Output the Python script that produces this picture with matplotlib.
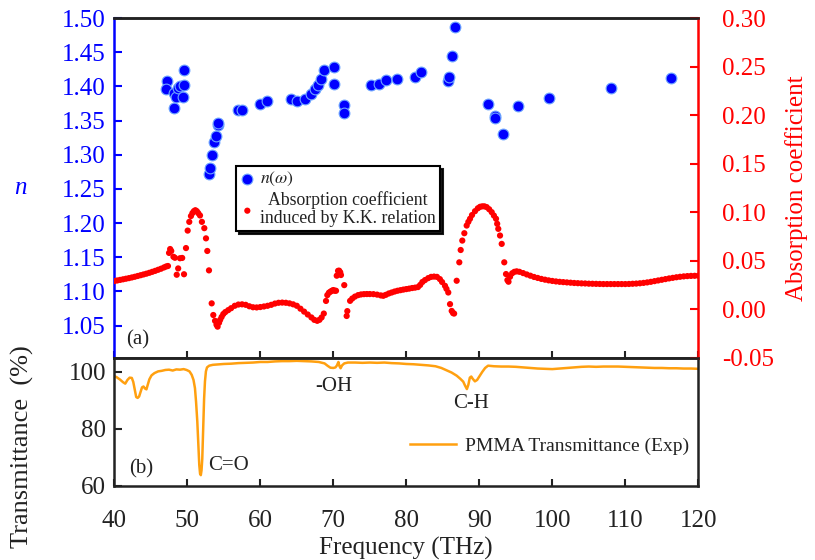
import matplotlib
matplotlib.use("Agg")
import matplotlib.pyplot as plt
from matplotlib.ticker import FixedLocator, FormatStrFormatter

plt.rcParams['font.family'] = ['Liberation Serif', 'DejaVu Serif']
plt.rcParams['mathtext.fontset'] = 'stix'

# ---------------- data ----------------
# refractive index n(omega) (left axis, top panel)
n_freq = [47.18, 47.09, 48.18, 48.2, 48.45, 48.77, 49.0, 49.45, 49.55, 49.6,
          53.0, 53.14, 53.37, 53.68, 53.92, 54.14, 54.27,
          57.01, 57.56, 59.99, 60.9, 64.19, 65.01, 66.15, 66.93, 67.52, 67.84,
          68.3, 68.75, 70.12, 70.03, 71.53, 71.53,
          75.19, 76.28, 77.24, 78.79, 81.21, 81.99, 85.69, 85.86, 86.32, 86.68,
          91.24, 92.16, 92.16, 93.2, 95.34, 99.55, 108.0, 116.2]
n_vals = [1.408, 1.396, 1.369, 1.390, 1.385, 1.397, 1.400, 1.385, 1.402, 1.424,
          1.272, 1.280, 1.300, 1.318, 1.327, 1.344, 1.347,
          1.366, 1.365, 1.375, 1.379, 1.381, 1.379, 1.382, 1.389, 1.396, 1.402,
          1.411, 1.424, 1.428, 1.404, 1.373, 1.361,
          1.402, 1.403, 1.410, 1.411, 1.414, 1.421, 1.408, 1.414, 1.445, 1.487,
          1.374, 1.357, 1.354, 1.330, 1.371, 1.383, 1.397, 1.412]

# absorption coefficient induced by K.K. relation (right axis, top panel)
abs_freq = [40.0, 40.4, 40.8, 41.2, 41.6, 42.0, 42.4, 42.8, 43.2, 43.6, 44.0,
            44.4, 44.8, 45.2, 45.6, 46.0, 46.4, 46.8, 47.1,
            47.35, 47.5, 47.65, 47.8, 48.1, 48.3, 48.55, 48.75, 49.0, 49.3,
            49.55, 49.82, 50.05, 50.27, 50.5, 50.7, 50.9, 51.1, 51.3, 51.5,
            51.74, 52.0, 52.33, 52.56, 52.74, 52.97, 53.34, 53.56, 53.8, 54.0,
            54.15, 54.35, 54.5, 54.7, 54.93, 55.2, 55.6, 56.0, 56.5, 57.0,
            57.5, 58.0, 58.5, 59.0, 59.5, 60.0, 60.5, 61.0, 61.5, 62.0, 62.5,
            63.0, 63.5, 64.0, 64.5, 65.0, 65.5, 66.0, 66.5, 67.0, 67.4, 67.8,
            68.1, 68.4, 68.7, 69.0, 69.18, 69.4, 69.6, 69.8, 70.0, 70.2, 70.37,
            70.47, 70.65, 70.8, 70.95, 71.05, 71.5, 71.83, 71.92, 72.3, 72.6,
            72.97, 73.4, 73.8, 74.2, 74.6, 75.0, 75.5, 76.0, 76.5, 76.85, 77.2,
            77.6, 78.0, 78.4, 78.8, 79.2, 79.6, 80.0, 80.4, 80.8, 81.2, 81.6,
            81.9, 82.2, 82.56, 83.0, 83.4, 83.8, 84.2, 84.6, 84.9, 85.3, 85.5,
            85.75, 85.99, 86.22, 86.4, 86.55, 86.9, 87.26, 87.45, 87.67, 87.95,
            88.27, 88.5, 88.73, 89.0, 89.41, 89.8, 90.1, 90.4, 90.7, 91.01,
            91.35, 91.7, 92.0, 92.29, 92.45, 92.6, 92.84, 93.07, 93.42, 93.66,
            93.85, 94.0, 94.21, 94.5, 94.8, 95.12, 95.5, 96.0, 96.5, 97.0, 97.5,
            98.0, 98.5, 99.0, 99.5, 100.0, 100.5, 101.0, 101.5, 102.0, 102.5,
            103.0, 103.5, 104.0, 104.5, 105.0, 105.5, 106.0, 106.5, 107.0,
            107.5, 108.0, 108.5, 109.0, 109.5, 110.0, 110.5, 111.0, 111.5,
            112.0, 112.5, 113.0, 113.5, 114.0, 114.5, 115.0, 115.5, 116.0,
            116.5, 117.0, 117.5, 118.0, 118.5, 119.0, 119.5, 120.0]
abs_vals = [0.0290, 0.0296, 0.0302, 0.0308, 0.0314, 0.0320, 0.0327, 0.0334,
            0.0342, 0.0350, 0.0358, 0.0366, 0.0375, 0.0385, 0.0395, 0.0406,
            0.0417, 0.0430, 0.0440,
            0.0445, 0.058, 0.062, 0.060, 0.054, 0.053, 0.0355, 0.042, 0.0525,
            0.0528, 0.036, 0.063, 0.081, 0.090, 0.096, 0.099, 0.101, 0.102,
            0.101, 0.099, 0.0966, 0.090, 0.0835, 0.073, 0.060, 0.040, 0.006,
            -0.006, -0.012, -0.016, -0.018, -0.014, -0.011, -0.008, -0.005,
            -0.003, -0.001, 0.001, 0.0035, 0.0048, 0.005, 0.0045, 0.003, 0.002,
            0.0018, 0.0022, 0.0028, 0.0035, 0.0045, 0.0058, 0.0066, 0.0068,
            0.0066, 0.006, 0.005, 0.0035, 0.0005, -0.0025, -0.0055, -0.0085,
            -0.011, -0.012, -0.011, -0.0085, -0.0045, 0.0085, 0.0145, 0.017,
            0.018, 0.019, 0.0197, 0.019, 0.019,
            0.0345, 0.0395, 0.0397, 0.038, 0.0352, 0.0248, -0.007, -0.002,
            0.0086, 0.011, 0.013, 0.0145, 0.0152, 0.0155, 0.0156, 0.0156,
            0.0155, 0.015, 0.0142, 0.0138, 0.0148, 0.0162, 0.0172, 0.0182,
            0.019, 0.0196, 0.0202, 0.0207, 0.0212, 0.0218, 0.0222, 0.0228,
            0.025, 0.028, 0.030, 0.032, 0.0333, 0.0336, 0.0333, 0.031, 0.028,
            0.0241, 0.021, 0.0172, 0.0052, -0.0018, -0.0040, -0.0045, 0.0293,
            0.0483, 0.061, 0.0707, 0.0783, 0.0862, 0.090, 0.0932, 0.097, 0.101,
            0.104, 0.1055, 0.106, 0.106, 0.1052, 0.103, 0.100, 0.0965, 0.0932,
            0.088, 0.0828, 0.0759, 0.0673, 0.0483, 0.0362, 0.0300, 0.0283,
            0.0334, 0.0370, 0.0385, 0.039, 0.0385, 0.0372, 0.0358, 0.0345,
            0.0332, 0.0322, 0.0312, 0.0304, 0.0297, 0.0291, 0.0286, 0.0282,
            0.0279, 0.0276, 0.0273, 0.0270, 0.0268, 0.0266, 0.0265, 0.0263,
            0.0262, 0.0261, 0.0260, 0.0259, 0.0259, 0.0259, 0.0259, 0.0259,
            0.0259, 0.0259, 0.0260, 0.0262, 0.0264, 0.0267, 0.0271, 0.0276,
            0.0282, 0.0289, 0.0296, 0.0303, 0.0310, 0.0317, 0.0323, 0.0329,
            0.0334, 0.0338, 0.0341, 0.0343, 0.0344, 0.0345]

# PMMA transmittance (bottom panel)
t_freq = [39.9, 40.3, 40.8, 41.2, 41.5, 41.8, 42.1, 42.4, 42.6, 42.8, 43.0,
          43.2, 43.4, 43.6, 43.8, 44.0, 44.2, 44.4, 44.6, 44.8, 45.1, 45.5,
          46.0, 46.5, 47.0, 47.5, 48.0, 48.5, 49.0, 49.5, 49.9, 50.3, 50.6,
          50.85, 51.05, 51.2, 51.37, 51.5, 51.64, 51.75, 51.85, 51.95, 52.05,
          52.2, 52.3, 52.42, 52.55, 52.7, 53.0, 53.5, 54.0, 55.0, 56.0, 57.0,
          58.0, 59.0, 60.0, 61.0, 62.0, 63.0, 64.0, 65.0, 66.0, 67.0, 68.0,
          68.8, 69.2, 69.6, 70.0, 70.3, 70.5, 70.7, 70.85, 71.0, 71.2, 71.5,
          72.0, 73.0, 74.0, 75.0, 76.0, 77.0, 78.0, 79.0, 80.0, 81.0, 82.0,
          83.0, 84.0, 84.8, 85.5, 86.2, 86.9, 87.4, 87.8, 88.05, 88.3, 88.5,
          88.7, 88.9, 89.1, 89.4, 89.7, 90.0, 90.4, 90.8, 91.2, 92.0, 93.0,
          94.0, 95.0, 96.0, 97.0, 98.0, 99.0, 100.0, 101.0, 102.0, 103.0,
          104.0, 105.0, 106.0, 107.0, 108.0, 109.0, 110.0, 111.0, 112.0,
          113.0, 114.0, 115.0, 116.0, 117.0, 118.0, 119.0, 120.0]
t_vals = [98.6, 98.2, 97.3, 96.4, 95.9, 97.2, 98.0, 97.9, 96.5, 93.8, 91.2,
          90.9, 91.4, 93.0, 94.6, 94.9, 94.2, 93.9, 95.6, 97.4, 98.8, 99.6,
          100.2, 100.4, 100.7, 100.8, 100.5, 100.9, 100.8, 101.0, 100.7, 100.2,
          99.0, 97.2, 94.3, 89.5, 82.6, 75.0, 67.4, 64.3, 63.8, 65.5, 69.5,
          82.6, 90.5, 96.7, 100.2, 101.6, 102.2, 102.5, 102.6, 102.8, 102.9,
          103.1, 103.2, 103.3, 103.5, 103.5, 103.7, 103.8, 103.8, 103.9, 103.8,
          103.7, 103.5, 103.0, 102.2, 101.5, 101.4, 101.6, 102.3, 103.5, 102.0,
          101.3, 102.3, 103.0, 103.3, 103.3, 103.2, 103.3, 103.2, 103.3, 103.1,
          103.0, 102.8, 102.7, 102.5, 102.3, 102.0, 101.4, 100.6, 99.8, 98.7,
          97.6, 96.6, 95.2, 94.0, 95.5, 98.0, 98.4, 97.6, 96.7, 97.2, 98.4,
          100.0, 101.4, 102.2, 102.0, 101.9, 101.9, 101.8, 101.6, 101.4, 101.2,
          101.1, 101.0, 101.2, 101.4, 101.6, 101.8, 101.9, 101.8, 101.9, 101.9,
          101.9, 101.8, 101.7, 101.6, 101.5, 101.4, 101.4, 101.3, 101.3, 101.2,
          101.2, 101.1]

x_ticks = [40, 50, 60, 70, 80, 90, 100, 110, 120]
n_ticks = [1.05, 1.10, 1.15, 1.20, 1.25, 1.30, 1.35, 1.40, 1.45, 1.50]
abs_ticks = [-0.05, 0.00, 0.05, 0.10, 0.15, 0.20, 0.25, 0.30]
t_ticks = [60, 80, 100]

BLUE = '#0000FF'
RED = '#FF0000'
ORANGE = '#FFA010'
DARK = '#222222'
FS = 18

# ---------------- figure ----------------
W, H = 815, 560
fig = plt.figure(figsize=(W / 100, H / 100), dpi=100)
L, R = 114.3, 698.3
T1, B1, B2 = 18.1, 357.7, 486.0
ax1 = fig.add_axes([L / W, 1 - B1 / H, (R - L) / W, (B1 - T1) / H])
ax2 = fig.add_axes([L / W, 1 - B2 / H, (R - L) / W, (B2 - B1) / H])
ax1r = ax1.twinx()

# top panel
sc_n = ax1.scatter(n_freq, n_vals, s=60, c=BLUE, edgecolors='#6EA6FF',
                   linewidths=0.8, zorder=3)
sc_a = ax1r.scatter(abs_freq, abs_vals, s=20, c=RED, edgecolors='none',
                    zorder=3)

ax1.set_xlim(40, 120)
ax1.set_ylim(1.003, 1.5)
ax1r.set_ylim(-0.05, 0.30)
ax1.xaxis.set_major_locator(FixedLocator(x_ticks))
ax1.yaxis.set_major_locator(FixedLocator(n_ticks))
ax1r.yaxis.set_major_locator(FixedLocator(abs_ticks))
ax1.yaxis.set_major_formatter(FormatStrFormatter('%.2f'))
ax1r.yaxis.set_major_formatter(FormatStrFormatter('%.2f'))
ax1.tick_params(axis='x', direction='in', length=5, width=1.5, color=DARK,
                labelbottom=False)
ax1.tick_params(axis='y', direction='in', length=6, width=1.5, color=BLUE,
                labelcolor=BLUE, labelsize=FS, pad=6)
ax1r.tick_params(axis='y', direction='in', length=6, width=1.5, color=RED,
                 labelcolor=RED, labelsize=FS, pad=17)

for ax in (ax1, ax1r):
    for sp in ax.spines.values():
        sp.set_linewidth(1.8)
        sp.set_color(DARK)
ax1.spines['left'].set_color(BLUE)
ax1r.spines['left'].set_visible(False)
ax1r.spines['right'].set_color(RED)
ax1.spines['right'].set_visible(False)

ax1.text(0.04, 0.053, '(a)', transform=ax1.transAxes, ha='center',
         va='center', fontsize=15, color=DARK)

leg = ax1r.legend([sc_n, sc_a],
                  [r'$n(\omega)$', 'Absorption coefficient\ninduced by K.K. relation'],
                  loc='upper left', bbox_to_anchor=(0.208, 0.565),
                  borderaxespad=0, fontsize=12.8, fancybox=False,
                  shadow={'color': 'black', 'alpha': 0.9},
                  edgecolor='black', framealpha=1, handlelength=0.8,
                  handletextpad=0.3, borderpad=0.25, labelspacing=0.15,
                  scatterpoints=1)
leg.get_frame().set_linewidth(1.5)
for t in leg.get_texts():
    t.set_color(DARK)
    t.set_multialignment('center')
    t.set_linespacing(1.05)

# bottom panel
ln, = ax2.plot(t_freq, t_vals, color=ORANGE, lw=1.8)
ax2.set_xlim(40, 120)
ax2.set_ylim(60, 105)
ax2.xaxis.set_major_locator(FixedLocator(x_ticks))
ax2.yaxis.set_major_locator(FixedLocator(t_ticks))
ax2.tick_params(axis='x', direction='in', length=5, width=1.5, color=DARK,
                labelcolor=DARK, labelsize=FS, pad=17.5)
ax2.tick_params(axis='y', direction='in', length=6, width=1.5, color=DARK,
                labelcolor=DARK, labelsize=FS, pad=6)
for sp in ax2.spines.values():
    sp.set_linewidth(1.8)
    sp.set_color(DARK)

ax2.text(0.046, 0.134, '(b)', transform=ax2.transAxes, ha='center',
         va='center', fontsize=15, color=DARK)
ax2.text(55.7, 67.3, 'C=O', ha='center', va='center', fontsize=15, color=DARK)
ax2.text(70.1, 94.8, '-OH', ha='center', va='center', fontsize=15, color=DARK)
ax2.text(88.9, 88.8, 'C-H', ha='center', va='center', fontsize=15, color=DARK)

leg2 = ax2.legend([ln], ['PMMA Transmittance (Exp)'], loc='center left',
                  bbox_to_anchor=(0.506, 0.31), frameon=False, fontsize=14,
                  borderpad=0, borderaxespad=0, handlelength=2.4,
                  handletextpad=0.45)
for t in leg2.get_texts():
    t.set_color(DARK)

ax2.set_xlabel('Frequency (THz)', fontsize=FS, color=DARK, labelpad=3)

fig.text(20 / W, 1 - 188 / H, 'n', fontsize=FS, color=BLUE, style='italic',
         ha='center', va='center')
fig.text(22 / W, 1 - 447 / H, 'Transmittance  (%)', fontsize=19, color=DARK,
         rotation=90, ha='center', va='center')
fig.text(797 / W, 1 - 188 / H, 'Absorption coefficient', fontsize=FS,
         color=RED, rotation=90, ha='center', va='center')

fig.savefig('out.png', dpi=100)
